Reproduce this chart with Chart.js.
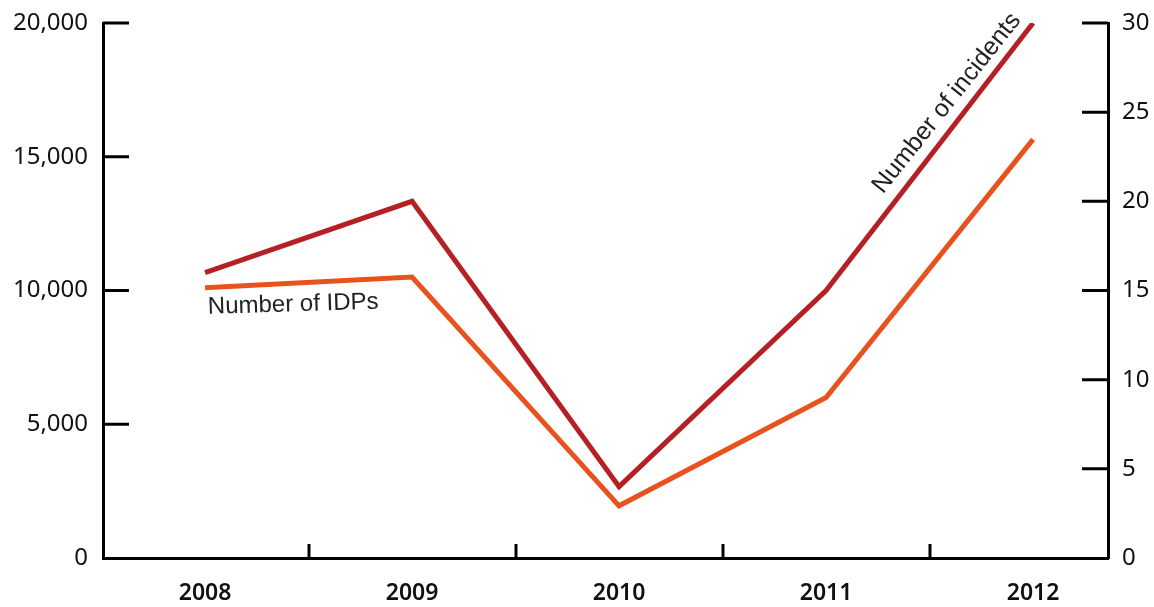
<!DOCTYPE html>
<html>
<head>
<meta charset="utf-8">
<script src="https://cdn.jsdelivr.net/npm/chart.js@4/dist/chart.umd.min.js"></script>
<style>
  html, body { margin: 0; padding: 0; background: #fff; }
  #wrap { width: 1154px; height: 607px; position: relative; }
</style>
</head>
<body>
<div id="wrap"><canvas id="chart"></canvas></div>
<script>
const years = ['2008', '2009', '2010', '2011', '2012'];
const idps = [10100, 10500, 1950, 6000, 15650];
const incidents = [16, 20, 4, 15, 30];
const idpColor = '#E8521F';
const incidentColor = '#B52025';

// inward tick marks on all three axes, plus the two line labels
const axisDecor = {
  id: 'axisDecor',
  afterDraw(chart) {
    const { ctx, chartArea } = chart;
    const x = chart.scales.x;
    const yL = chart.scales.yIdp;
    const yR = chart.scales.yInc;
    ctx.save();
    ctx.strokeStyle = '#000';
    ctx.lineWidth = 3;
    ctx.beginPath();
    yL.ticks.forEach((t) => {
      if (t.value === 0) return;
      const py = yL.getPixelForValue(t.value);
      ctx.moveTo(chartArea.left, py);
      ctx.lineTo(chartArea.left + 26, py);
    });
    yR.ticks.forEach((t) => {
      if (t.value === 0) return;
      const py = yR.getPixelForValue(t.value);
      ctx.moveTo(chartArea.right, py);
      ctx.lineTo(chartArea.right - 26, py);
    });
    // boundaries between the years
    for (let i = 0; i < years.length - 1; i++) {
      const px = Math.round(x.getPixelForValue(i + 0.5));
      ctx.moveTo(px, chartArea.bottom);
      ctx.lineTo(px, chartArea.bottom - 14);
    }
    ctx.stroke();

    ctx.fillStyle = '#222';
    ctx.textBaseline = 'alphabetic';
    // IDPs label under the first segment
    ctx.font = '24px "Liberation Sans", Arial, sans-serif';
    const ax = x.getPixelForValue(0);
    const ay = yL.getPixelForValue(idps[0]);
    ctx.save();
    ctx.translate(ax + 3, ay + 26);
    ctx.rotate(-0.03);
    ctx.fillText('Number of IDPs', 0, 0);
    ctx.restore();

    // incidents label along the last segment
    ctx.font = '25px "Liberation Sans", Arial, sans-serif';
    const x1 = x.getPixelForValue(3);
    const y1 = yR.getPixelForValue(incidents[3]);
    ctx.save();
    ctx.translate(x1 + 57, y1 - 96);
    ctx.rotate(-51.5 * Math.PI / 180);
    ctx.fillText('Number of incidents', 0, 0);
    ctx.restore();
    ctx.restore();
  },
};

const noPad = (scale, w) => {
  scale.width = w;
  scale.paddingTop = 0;
  scale.paddingBottom = 0;
};

new Chart(document.getElementById('chart'), {
  type: 'line',
  data: {
    datasets: [
      {
        label: 'Number of incidents',
        data: incidents.map((v, i) => ({ x: i, y: v })),
        yAxisID: 'yInc',
        borderColor: incidentColor,
        borderWidth: 5,
        pointRadius: 0,
        tension: 0,
      },
      {
        label: 'Number of IDPs',
        data: idps.map((v, i) => ({ x: i, y: v })),
        yAxisID: 'yIdp',
        borderColor: idpColor,
        borderWidth: 5,
        pointRadius: 0,
        tension: 0,
      },
    ],
  },
  options: {
    responsive: true,
    maintainAspectRatio: false,
    animation: false,
    layout: { padding: { top: 23, left: 0, right: 0, bottom: 0 } },
    plugins: {
      legend: { display: false },
      tooltip: { enabled: false },
    },
    scales: {
      x: {
        type: 'linear',
        min: -0.493,
        max: 4.362,
        grid: { display: false, drawTicks: false },
        border: { display: true, color: '#000', width: 3 },
        afterBuildTicks(scale) { scale.ticks = years.map((y, i) => ({ value: i })); },
        ticks: {
          color: '#111',
          padding: 22,
          font: { family: 'Noto Sans', size: 23, weight: '600' },
          callback(v) { return years[v]; },
        },
        afterFit(scale) {
          scale.height = 49;
          scale.paddingLeft = 0;
          scale.paddingRight = 0;
        },
      },
      yIdp: {
        position: 'left',
        min: 0,
        max: 20000,
        grid: { display: false, drawTicks: false },
        border: { display: true, color: '#000', width: 3 },
        ticks: {
          stepSize: 5000,
          color: '#111',
          padding: 15,
          font: { family: 'Noto Sans', size: 24 },
          callback(v) { return v.toLocaleString('en-US'); },
        },
        afterFit(scale) { noPad(scale, 103); },
      },
      yInc: {
        position: 'right',
        min: 0,
        max: 30,
        grid: { display: false, drawTicks: false },
        border: { display: true, color: '#000', width: 3 },
        ticks: {
          stepSize: 5,
          color: '#111',
          padding: 14,
          font: { family: 'Noto Sans', size: 24 },
        },
        afterFit(scale) { noPad(scale, 46); },
      },
    },
  },
  plugins: [axisDecor],
});
</script>
</body>
</html>
